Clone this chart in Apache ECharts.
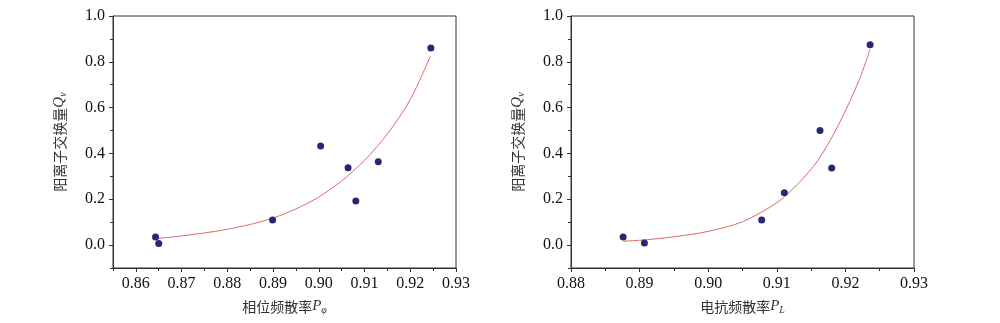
<!DOCTYPE html>
<html>
<head>
<meta charset="utf-8">
<script src="https://cdn.jsdelivr.net/npm/echarts@6/dist/echarts.min.js"></script>
<style>
html,body{margin:0;padding:0;background:#fff;}
#c{width:1000px;height:323px;}
</style>
</head>
<body>
<div id="c"></div>
<script>
// Left panel: phase dispersion rate P_phi vs cation exchange Q_v
const leftPointsX = [0.8643, 0.8650, 0.8899, 0.9004, 0.9064, 0.9081, 0.9130, 0.9245];
const leftPointsY = [0.035, 0.007, 0.110, 0.432, 0.338, 0.192, 0.364, 0.860];
const leftCurveX = [0.8649, 0.870, 0.875, 0.880, 0.885, 0.890, 0.895, 0.900, 0.905, 0.910, 0.915, 0.920, 0.9244];
const leftCurveY = [0.029, 0.040, 0.053, 0.069, 0.090, 0.118, 0.158, 0.210, 0.280, 0.370, 0.485, 0.635, 0.825];
// Right panel: reactance dispersion rate P_L vs cation exchange Q_v
const rightPointsX = [0.8876, 0.8907, 0.9078, 0.9111, 0.9163, 0.9180, 0.9236];
const rightPointsY = [0.035, 0.009, 0.110, 0.228, 0.500, 0.337, 0.875];
const rightCurveX = [0.8876, 0.890, 0.895, 0.900, 0.905, 0.910, 0.913, 0.916, 0.919, 0.922, 0.9236];
const rightCurveY = [0.017, 0.021, 0.036, 0.060, 0.102, 0.185, 0.265, 0.370, 0.525, 0.720, 0.855];
// Tick values
const yMajorTicks = [0, 0.2, 0.4, 0.6, 0.8, 1.0];
const yMinorTicks = [-0.1, 0.1, 0.3, 0.5, 0.7, 0.9];
const leftXMajor = [0.86, 0.87, 0.88, 0.89, 0.90, 0.91, 0.92, 0.93];
const leftXMinor = [0.855, 0.865, 0.875, 0.885, 0.895, 0.905, 0.915, 0.925];
const rightXMajor = [0.88, 0.89, 0.90, 0.91, 0.92, 0.93];
const rightXMinor = [0.885, 0.895, 0.905, 0.915, 0.925];

const yName = '阳离子交换量{i|Q}{sub|v}';
const leftXName = '相位频散率{i|P}{sub|φ}';
const rightXName = '电抗频散率{i|P}{sub|L}';

const AX = '#333';
const DOT = '#2a2672';
const LINE = '#e06868';
const serif = '"Liberation Serif", "Times New Roman", serif';
const cjk = '"Noto Sans CJK SC", sans-serif';

const nameRich = {
  i: {fontFamily: serif, fontStyle: 'italic', fontSize: 15, color: '#333'},
  sub: {fontFamily: serif, fontStyle: 'italic', fontSize: 10, color: '#333', padding: [7, 0, 0, 0]}
};
const nameStyle = {fontFamily: cjk, fontSize: 14, color: '#333', rich: nameRich};

function xAxes(grid, min, max, major, minor, name){
  return [
    {type:'value', gridIndex:grid, position:'bottom', min:min, max:max, name:name, nameLocation:'middle', nameGap:30,
     nameTextStyle:nameStyle,
     axisLine:{show:true, onZero:false, lineStyle:{color:AX, width:1}},
     axisTick:{show:true, inside:false, length:4, customValues:major, lineStyle:{color:AX}},
     axisLabel:{show:true, customValues:major, margin:8, fontFamily:serif, fontSize:16, color:'#111',
       formatter:function(v){return v.toFixed(2);}},
     splitLine:{show:false}},
    {type:'value', gridIndex:grid, position:'bottom', offset:0, min:min, max:max,
     axisLine:{show:false, onZero:false},
     axisTick:{show:true, inside:false, length:3, customValues:minor, lineStyle:{color:AX}},
     axisLabel:{show:false},
     splitLine:{show:false}}
  ];
}
function yAxes(grid){
  return [
    {type:'value', gridIndex:grid, position:'left', min:-0.1, max:1.0, name:yName, nameLocation:'middle', nameGap:45, nameRotate:90,
     nameTextStyle:nameStyle,
     axisLine:{show:true, onZero:false, lineStyle:{color:AX, width:1}},
     axisTick:{show:true, inside:false, length:4, customValues:yMajorTicks, lineStyle:{color:AX}},
     axisLabel:{show:true, customValues:yMajorTicks, margin:8, fontFamily:serif, fontSize:16, color:'#111',
       formatter:function(v){return v.toFixed(1);}},
     splitLine:{show:false}},
    {type:'value', gridIndex:grid, position:'left', offset:0, min:-0.1, max:1.0,
     axisLine:{show:false, onZero:false},
     axisTick:{show:true, inside:false, length:3, customValues:yMinorTicks, lineStyle:{color:AX}},
     axisLabel:{show:false},
     splitLine:{show:false}}
  ];
}

function zip(a, b){ return a.map(function(v, i){ return [v, b[i]]; }); }

const chart = echarts.init(document.getElementById('c'), null, {renderer:'canvas'});
chart.setOption({
  backgroundColor:'#fff',
  animation:false,
  grid:[
    {left:113, top:16, width:343, height:252, show:true, borderColor:AX, borderWidth:1, backgroundColor:'transparent'},
    {left:571, top:16, width:343, height:252, show:true, borderColor:AX, borderWidth:1, backgroundColor:'transparent'}
  ],
  xAxis: xAxes(0, 0.855, 0.93, leftXMajor, leftXMinor, leftXName)
    .concat(xAxes(1, 0.88, 0.93, rightXMajor, rightXMinor, rightXName)),
  yAxis: yAxes(0).concat(yAxes(1)),
  series:[
    {type:'line', xAxisIndex:0, yAxisIndex:0, data:zip(leftCurveX, leftCurveY), smooth:0.3, symbol:'none',
     lineStyle:{color:LINE, width:1}, z:2},
    {type:'scatter', xAxisIndex:0, yAxisIndex:0, data:zip(leftPointsX, leftPointsY), symbolSize:7,
     itemStyle:{color:DOT, opacity:1}, z:3},
    {type:'line', xAxisIndex:2, yAxisIndex:2, data:zip(rightCurveX, rightCurveY), smooth:0.3, symbol:'none',
     lineStyle:{color:LINE, width:1}, z:2},
    {type:'scatter', xAxisIndex:2, yAxisIndex:2, data:zip(rightPointsX, rightPointsY), symbolSize:7,
     itemStyle:{color:DOT, opacity:1}, z:3}
  ]
});
</script>
</body>
</html>
